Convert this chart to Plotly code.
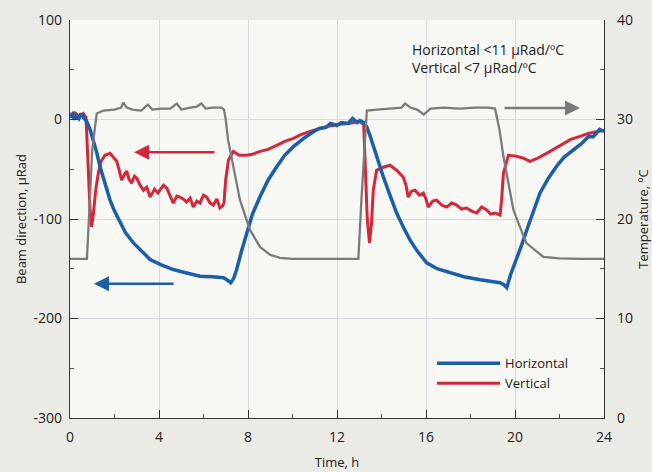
import plotly.graph_objects as go

# Temperature (right axis, ºC)
temp_t = [0, 0.76, 0.85, 1.0, 1.2, 1.5, 2.0, 2.3, 2.4, 2.55, 2.8, 3.2, 3.5, 3.7, 4.1, 4.5,
          4.8, 5.0, 5.4, 5.7, 5.9, 6.1, 6.4, 6.8, 6.92, 7.0, 7.1, 7.34, 7.64, 8.09, 8.54,
          8.99, 9.44, 10, 11, 12, 12.96, 13.1, 13.34, 13.8, 14.5, 14.9, 15.06, 15.3, 15.6,
          15.9, 16.2, 16.8, 17.5, 18.2, 18.8, 19.1, 19.3, 19.48, 19.93, 20.5, 21.27, 22, 23, 24]
temp_v = [16.0, 16.0, 20.0, 27.0, 30.6, 30.9, 31.0, 31.2, 31.7, 31.2, 31.0, 30.9, 31.5, 31.0,
          31.1, 31.1, 31.6, 31.0, 31.2, 31.3, 31.6, 31.1, 31.2, 31.2, 31.0, 30.0, 28.0, 25.3,
          21.9, 18.9, 17.2, 16.4, 16.1, 16.0, 16.0, 16.0, 16.0, 22.0, 30.9, 31.0, 31.1, 31.2,
          31.6, 31.2, 31.0, 30.5, 31.1, 31.2, 31.1, 31.2, 31.2, 31.1, 29.0, 26.3, 20.9, 17.6,
          16.2, 16.05, 16.0, 16.0]

# Horizontal beam direction (left axis, µRad)
hor_t = [0, 0.1, 0.2, 0.3, 0.4, 0.5, 0.6, 0.75, 0.9, 1.05, 1.2, 1.35, 1.55, 1.8, 2.0, 2.25,
         2.5, 2.85, 3.2, 3.6, 4.1, 4.64, 5.2, 5.84, 6.4, 6.9, 7.05, 7.22, 7.35, 7.49, 7.7,
         7.94, 8.2, 8.54, 8.9, 9.29, 9.65, 10.04, 10.5, 10.94, 11.2, 11.5, 11.7, 11.99, 12.2,
         12.5, 12.7, 12.9, 13.03, 13.2, 13.33, 13.48, 13.63, 13.85, 14.08, 14.38, 14.68, 15.0,
         15.28, 15.6, 16.03, 16.5, 17.08, 17.7, 18.43, 19.0, 19.33, 19.5, 19.63, 19.8, 20.07,
         20.3, 20.53, 20.8, 21.12, 21.5, 21.87, 22.2, 22.62, 23.0, 23.3, 23.52, 23.8, 24.0]
hor_v = [2, 5, 0, 4, 1, 6, 2, -2, -10, -20.6, -33, -47.5, -63, -81, -92, -104,
         -114, -124, -132, -140.7, -146, -150.8, -154, -157.5, -158, -159, -161, -164, -160,
         -150.8, -133, -114, -95, -77.6, -61, -47.5, -36, -27.3, -19, -12.3, -9, -8, -4, -6,
         -3, -4, 1, -3, -1, -3, -7, -16, -27, -42, -57.5, -76, -94, -109, -121, -132, -144,
         -150, -154, -158, -161, -163, -164, -166, -169, -156, -141, -126, -111, -93, -74,
         -59, -47, -38, -30.6, -24, -17, -17.3, -10, -12]

# Vertical beam direction (left axis, µRad)
ver_t = [0, 0.2, 0.4, 0.6, 0.72, 0.8, 0.9, 0.97, 1.05, 1.15, 1.27, 1.4, 1.57, 1.8, 1.95, 2.1,
         2.2, 2.32, 2.45, 2.55, 2.65, 2.77, 2.9, 3.0, 3.15, 3.3, 3.45, 3.6, 3.8, 3.95, 4.04,
         4.2, 4.35, 4.5, 4.64, 4.8, 4.94, 5.1, 5.24, 5.4, 5.54, 5.7, 5.84, 6.0, 6.14, 6.3,
         6.44, 6.6, 6.74, 6.85, 6.92, 7.0, 7.12, 7.34, 7.6, 7.94, 8.2, 8.54, 8.9, 9.29, 9.65,
         10.04, 10.4, 10.79, 11.2, 11.54, 12.0, 12.5, 13.03, 13.2, 13.26, 13.36, 13.46, 13.55,
         13.63, 13.78, 14.08, 14.38, 14.68, 14.98, 15.1, 15.2, 15.35, 15.5, 15.7, 15.88, 16.0,
         16.1, 16.3, 16.48, 16.7, 16.93, 17.15, 17.38, 17.6, 17.83, 18.05, 18.28, 18.5, 18.73,
         18.9, 19.1, 19.33, 19.4, 19.48, 19.7, 20.07, 20.4, 20.67, 21.0, 21.42, 21.8, 22.17,
         22.5, 22.92, 23.3, 23.7, 24.0]
ver_v = [4, 7, 3, 6, 2, -40, -90, -108, -95, -72, -54, -42, -36, -34, -38, -42, -50, -61, -55,
         -52, -60, -64, -57, -59, -66, -71, -68, -78, -70, -74, -71, -66, -69, -76, -84, -77,
         -78, -80, -83, -79, -88, -82, -84, -76, -78, -84, -86, -80, -89, -87, -84, -60, -41,
         -32, -36, -36, -35, -32, -30, -26, -22, -19, -15, -12, -9, -7, -5, -4, -2, -5, -40,
         -100, -124, -105, -71, -51, -48, -46, -51, -58, -66, -78, -72, -71, -76, -74, -80,
         -88, -82, -81, -86, -88, -84, -86, -90, -89, -92, -94, -88, -91, -95, -94, -96, -80,
         -54, -36, -37, -39, -42, -39, -34, -29, -24, -20, -17, -14, -12, -11]

x_ticks = [0, 4, 8, 12, 16, 20, 24]
y_ticks = [-300, -200, -100, 0, 100]
y_labels = ["-300", "-200", "-100", "0", "100"]
t_ticks = [0, 10, 20, 30, 40]

BLUE = "#1c5ea8"
RED = "#d3283b"
GRAY = "#7b7b7b"
PAPER = "#ebebe5"
FONT = "Open Sans"

fig = go.Figure()
fig.add_trace(go.Scatter(x=temp_t, y=temp_v, yaxis="y2", mode="lines",
                         line=dict(color=GRAY, width=2.3), showlegend=False))
fig.add_trace(go.Scatter(x=ver_t, y=ver_v, mode="lines", name="Vertical",
                         line=dict(color=RED, width=3), legendrank=2))
fig.add_trace(go.Scatter(x=hor_t, y=hor_v, mode="lines", name="Horizontal",
                         line=dict(color=BLUE, width=3.5), legendrank=1))

axis_common = dict(showline=True, linecolor="#333333", linewidth=1.2, ticks="inside",
                   ticklen=8, tickcolor="#333333", zeroline=False, automargin=False,
                   tickfont=dict(family=FONT, size=14, color="#222"))

fig.update_layout(
    width=652, height=472,
    margin=dict(l=70, r=48, t=20, b=54),
    paper_bgcolor=PAPER, plot_bgcolor="#f7f7f3",
    font=dict(family=FONT, size=14, color="#222"),
    xaxis=dict(range=[0, 24], tickvals=x_ticks, showgrid=True, gridcolor="#d5d9de",
               gridwidth=1, ticklabelstandoff=6,
               title=dict(text="Time, h", font=dict(size=13), standoff=12),
               minor=dict(dtick=2, ticks="inside", ticklen=4, tickcolor="#555", showgrid=False),
               **axis_common),
    yaxis=dict(range=[-300, 100], tickvals=y_ticks, ticktext=y_labels, showgrid=True,
               gridcolor="#d5d9de", ticklabelstandoff=4,
               title=dict(text="Beam direction, µRad", font=dict(size=13), standoff=4),
               minor=dict(dtick=50, ticks="inside", ticklen=4, tickcolor="#555", showgrid=False),
               **axis_common),
    yaxis2=dict(range=[0, 40], tickvals=t_ticks, overlaying="y", side="right", showgrid=False,
                ticklabelstandoff=9,
                title=dict(text="Temperature, ºC", font=dict(size=13), standoff=10),
                minor=dict(dtick=5, ticks="inside", ticklen=4, tickcolor="#555"),
                **axis_common),
    legend=dict(x=0.678, y=0.175, xanchor="left", yanchor="top", bgcolor="rgba(0,0,0,0)",
                font=dict(family=FONT, size=13), tracegroupgap=0, itemwidth=63),
    showlegend=True,
)

fig.add_annotation(x=0.637, y=0.955, xref="paper", yref="paper", xanchor="left", yanchor="top",
                   align="left", showarrow=False,
                   text="Horizontal <11 µRad/ºC<br>Vertical <7 µRad/ºC",
                   font=dict(family=FONT, size=14, color="#222"))

# direction arrows
fig.add_annotation(x=1.08, y=-165, ax=4.72, ay=-165, xref="x", yref="y", axref="x", ayref="y",
                   showarrow=True, arrowhead=2, arrowsize=1.2, arrowwidth=2.5, arrowcolor=BLUE, text="")
fig.add_annotation(x=2.88, y=-33, ax=6.56, ay=-33, xref="x", yref="y", axref="x", ayref="y",
                   showarrow=True, arrowhead=2, arrowsize=1.2, arrowwidth=2.5, arrowcolor=RED, text="")
fig.add_annotation(x=22.92, y=11.6, ax=19.46, ay=11.6, xref="x", yref="y", axref="x", ayref="y",
                   showarrow=True, arrowhead=2, arrowsize=1.2, arrowwidth=2.5, arrowcolor=GRAY, text="")

fig.write_html(
    "out.html",
    config={"displayModeBar": False},
    post_script="document.body.style.margin='0';document.body.style.background='%s';" % PAPER,
)
